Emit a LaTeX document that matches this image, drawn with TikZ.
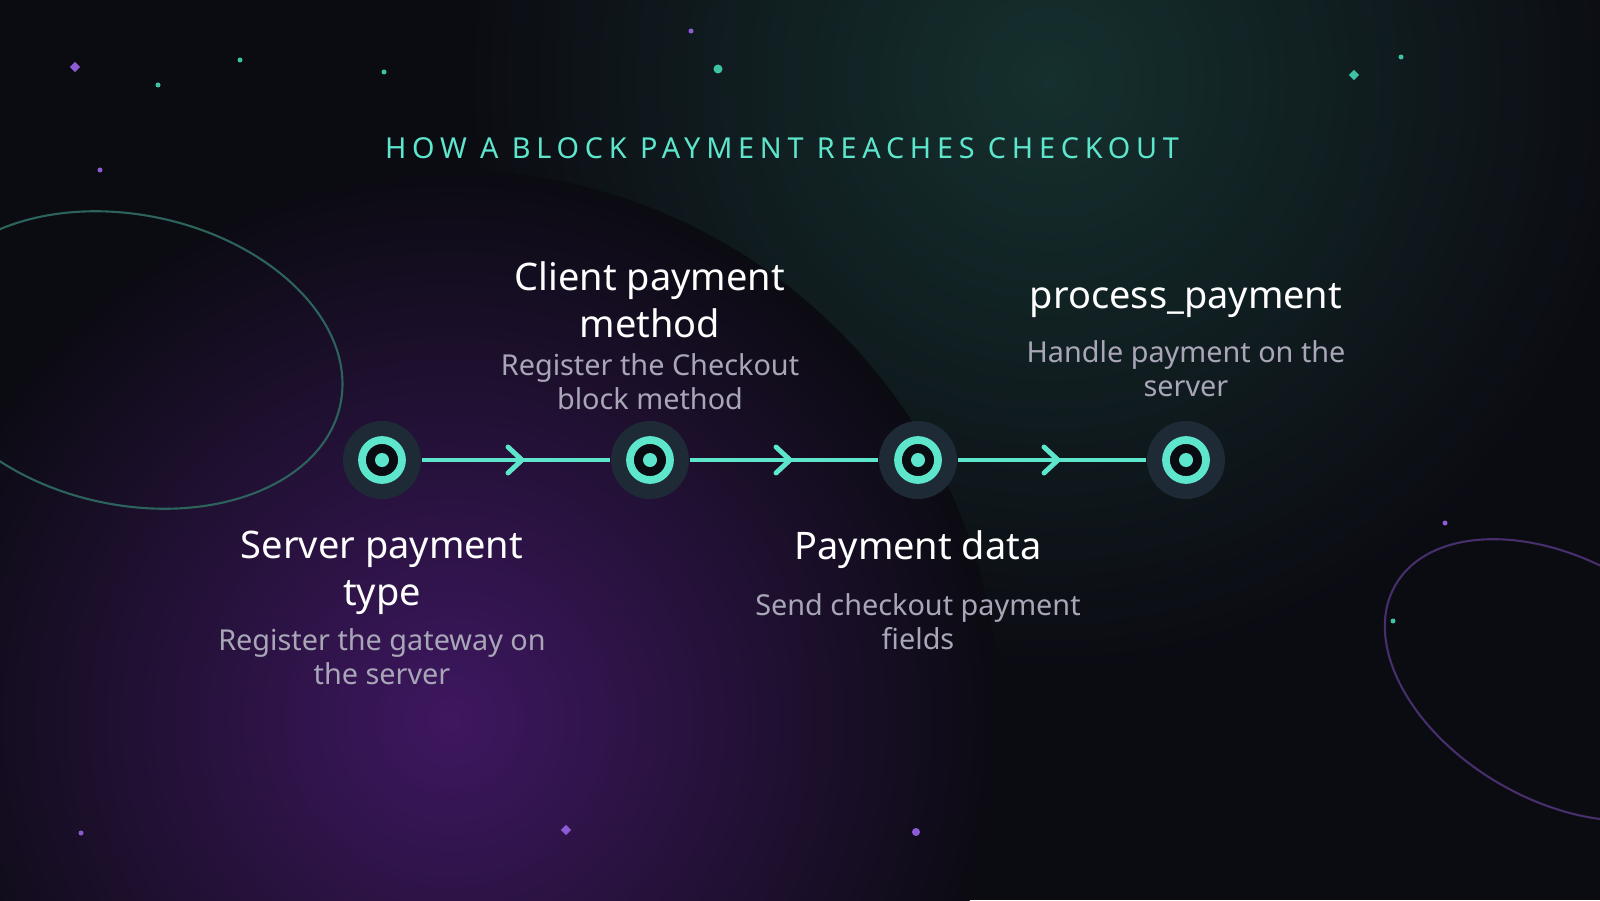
\documentclass[tikz,border=0pt]{standalone}
\usepackage{fontspec}
\setmainfont{Noto Sans}
\usetikzlibrary{positioning,shapes.geometric,calc}
\definecolor{bgdark}{HTML}{0B0B12}
\definecolor{glowpurple}{HTML}{3E1760}
\definecolor{glowgreen}{HTML}{15302E}
\definecolor{teal}{HTML}{5EE6CC}
\definecolor{halo}{HTML}{1E2A36}
\definecolor{subgray}{HTML}{A9A6B8}
\definecolor{dotpurple}{HTML}{8E5BD6}
\definecolor{dotgreen}{HTML}{3FC3A4}

\begin{document}
\begin{tikzpicture}[x=1cm,y=1cm,
    stepnode/.style={circle,draw=teal,line width=2.2pt,fill=bgdark,minimum size=0.4cm,inner sep=0pt},
    haloring/.style={circle,fill=halo,minimum size=0.78cm,inner sep=0pt},
    coredot/.style={circle,fill=teal,minimum size=0.14cm,inner sep=0pt},
    headtext/.style={text=white,font=\fontsize{10.8}{13.5}\selectfont,align=center},
    subtext/.style={text=subgray,font=\fontsize{8.2}{9.6}\selectfont,align=center},
    chevron/.style={draw=teal,line width=1.4pt,line cap=round,line join=round},
    sparkle/.style={diamond,inner sep=0pt,minimum size=0.11cm},
    speck/.style={circle,inner sep=0pt,minimum size=0.05cm}]

    % background and glows
    \useasboundingbox (0,0) rectangle (16,9);
    \clip (0,0) rectangle (16,9);
    \fill[bgdark] (0,0) rectangle (16,9);
    \shade[inner color=glowgreen,outer color=bgdark] (10.5,8.2) circle (6.0);
    \shade[inner color=glowpurple,outer color=bgdark] (4.5,1.8) circle (5.5);

    % decorative orbits
    \draw[teal!40!bgdark,line width=0.6pt,rotate around={-12:(1.3,5.4)}] (1.3,5.4) ellipse (2.15 and 1.45);
    \draw[dotpurple!45!bgdark,line width=0.6pt,rotate around={-30:(15.6,2.2)}] (15.6,2.2) ellipse (1.9 and 1.2);

    % sparkles
    \node[sparkle,fill=dotpurple] (s1) at (0.75,8.33) {};
    \node[sparkle,fill=dotpurple] (s2) at (5.66,0.70) {};
    \node[sparkle,fill=dotgreen] (s3) at (13.54,8.25) {};
    \node[speck,fill=dotgreen,minimum size=0.09cm] (p1) at (7.18,8.31) {};
    \node[speck,fill=dotpurple,minimum size=0.08cm] (p2) at (9.16,0.68) {};
    \node[speck,fill=dotgreen] (p3) at (1.58,8.15) {};
    \node[speck,fill=dotgreen] (p4) at (2.40,8.40) {};
    \node[speck,fill=dotgreen] (p5) at (3.84,8.28) {};
    \node[speck,fill=dotpurple] (p6) at (6.91,8.69) {};
    \node[speck,fill=dotgreen] (p7) at (14.01,8.43) {};
    \node[speck,fill=dotpurple] (p8) at (1.00,7.30) {};
    \node[speck,fill=dotpurple] (p9) at (0.81,0.67) {};
    \node[speck,fill=dotpurple] (p10) at (14.45,3.77) {};
    \node[speck,fill=dotgreen] (p11) at (13.93,2.79) {};

    % title
    \node[text=teal,font=\fontsize{8.2}{10}\selectfont\addfontfeatures{LetterSpace=20}] (title) at (7.82,7.52) {HOW A BLOCK PAYMENT REACHES CHECKOUT};

    % steps
    \node[haloring] (h1) at (3.82,4.40) {};
    \node[haloring] (h2) at (6.50,4.40) {};
    \node[haloring] (h3) at (9.18,4.40) {};
    \node[haloring] (h4) at (11.86,4.40) {};
    \draw[teal,line width=1.2pt] (h1) -- (h2) -- (h3) -- (h4);
    \foreach \n in {1,2,3,4} {
        \node[stepnode] (n\n) at (h\n) {};
        \node[coredot] at (n\n) {};
    }
    \foreach \a/\b in {1/2,2/3,3/4} {
        \coordinate (m\a) at ($(n\a)!0.5!(n\b)$);
        \draw[chevron] ([shift={(-0.08,0.13)}]m\a) -- ([shift={(0.06,0)}]m\a) -- ([shift={(-0.08,-0.13)}]m\a);
    }

    % labels
    \node[headtext] (t1) at (3.82,3.27) {Server payment\\type};
    \node[subtext] (d1) at (3.82,2.43) {Register the gateway on\\the server};
    \node[headtext] (t2) at (6.50,6.00) {Client payment\\method};
    \node[subtext] (d2) at (6.50,5.18) {Register the Checkout\\block method};
    \node[headtext] (t3) at (9.18,3.50) {Payment data};
    \node[subtext] (d3) at (9.18,2.78) {Send checkout payment\\fields};
    \node[headtext] (t4) at (11.86,5.99) {process\_payment};
    \node[subtext] (d4) at (11.86,5.31) {Handle payment on the\\server};
\end{tikzpicture}
\end{document}
